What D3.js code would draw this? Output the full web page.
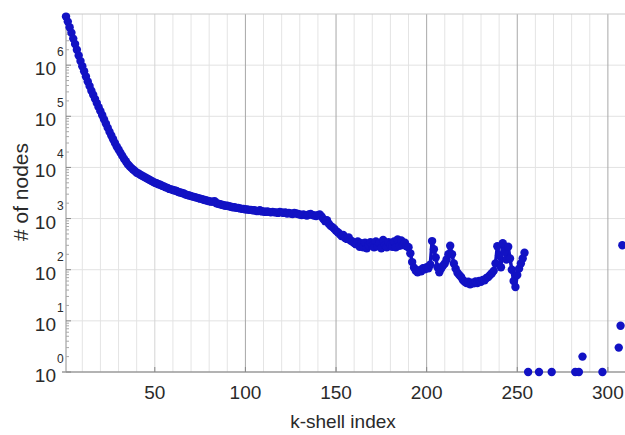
<!DOCTYPE html>
<html>
<head>
<meta charset="utf-8">
<script src="https://cdn.jsdelivr.net/npm/d3@7"></script>
<style>
  body { margin: 0; background: #fff; }
  text { font-family: "Liberation Sans", Arial, sans-serif; fill: #2a2a2a; }
</style>
</head>
<body>
<script>
// node counts per k-shell, k = 1 .. 254
var shellCounts = [
  8900000, 7100000, 5500000, 4300000, 3300000, 2600000, 2000000, 1550000, 1200000, 955000,
  760000, 600000, 480000, 390000, 316000, 263000, 219000, 182000, 151000, 126000,
  105000, 87000, 72000, 60000, 50000, 42000, 35500, 30000, 25700, 22400,
  19500, 17000, 14800, 13200, 11700, 10700, 9800, 9100, 8500, 7900,
  7600, 7200, 6900, 6600, 6300, 6000, 5750, 5500, 5250, 5000,
  4900, 4700, 4570, 4370, 4270, 4070, 3980, 3800, 3720, 3630,
  3550, 3470, 3310, 3240, 3160, 3090, 2950, 2880, 2820, 2750,
  2690, 2630, 2570, 2510, 2450, 2400, 2340, 2290, 2240, 2190,
  2140, 2140, 2190, 2000, 1950, 1900, 1860, 1820, 1780, 1780,
  1740, 1700, 1660, 1660, 1620, 1620, 1580, 1550, 1550, 1510,
  1510, 1480, 1480, 1450, 1450, 1410, 1410, 1450, 1380, 1380,
  1350, 1380, 1350, 1320, 1350, 1320, 1320, 1290, 1350, 1320,
  1290, 1320, 1260, 1290, 1260, 1230, 1290, 1260, 1230, 1200,
  1170, 1200, 1170, 1150, 1200, 1230, 1170, 1150, 1120, 1170,
  1200, 1100, 980, 890, 930, 790, 720, 680, 630, 575,
  540, 500, 457, 480, 417, 400, 427, 372, 355, 331,
  316, 355, 282, 331, 275, 339, 263, 302, 347, 295,
  275, 355, 288, 331, 263, 380, 302, 275, 347, 309,
  282, 355, 275, 390, 295, 372, 302, 339, 288, 275,
  209, 141, 110, 95, 89, 98, 93, 107, 102, 112,
  107, 126, 363, 251, 174, 112, 89, 105, 120, 132,
  158, 200, 295, 200, 132, 105, 87, 79, 72, 63,
  58, 55, 58, 52, 56, 54, 59, 55, 60, 58,
  63, 62, 69, 72, 79, 85, 95, 132, 288, 191,
  112, 331, 229, 158, 282, 166, 100, 60, 46, 79,
  105, 132, 166, 214
];
// sparse shells at the top end
var tailK = [256, 262, 269, 282, 284, 286, 297, 306, 307, 308];
var tailCounts = [1, 1, 1, 1, 1, 2, 1, 3, 8, 300];

var xTicks = [50, 100, 150, 200, 250, 300];
var yExps = [0, 1, 2, 3, 4, 5, 6];

var mainPts = shellCounts.map(function(c, i){ return {k: i + 1, n: c}; });
var points = mainPts.concat(tailK.map(function(k, i){ return {k: k, n: tailCounts[i]}; }));

var W = 625, H = 435;
var svg = d3.select("body").append("svg").attr("width", W).attr("height", H);

var x = d3.scaleLinear().domain([1, 310]).range([66, 626]);
var y = d3.scaleLog().domain([1, 1e7]).range([372, 14]);

var grid = svg.append("g");
// minor vertical grid every 10
grid.selectAll("line.vmin").data(d3.range(10, 310, 10).filter(function(v){ return v % 50 != 0; }))
  .enter().append("line")
  .attr("x1", function(d){ return x(d); }).attr("x2", function(d){ return x(d); })
  .attr("y1", y(1e7)).attr("y2", y(1))
  .style("stroke", "#e4e4e4").style("stroke-width", 1);
// horizontal decade lines
grid.selectAll("line.h").data(yExps.slice(1))
  .enter().append("line")
  .attr("x1", x(1)).attr("x2", W)
  .attr("y1", function(d){ return y(Math.pow(10, d)); }).attr("y2", function(d){ return y(Math.pow(10, d)); })
  .style("stroke", "#e2e2e2").style("stroke-width", 1);
// major vertical lines
grid.selectAll("line.vmaj").data(xTicks)
  .enter().append("line")
  .attr("x1", function(d){ return x(d); }).attr("x2", function(d){ return x(d); })
  .attr("y1", y(1e7)).attr("y2", y(1))
  .style("stroke", function(d){ return d == 50 ? "#d4d4d4" : "#a8a8a8"; }).style("stroke-width", 1);

// frame
svg.append("line").attr("x1", x(1)).attr("x2", W).attr("y1", y(1e7)).attr("y2", y(1e7))
  .style("stroke", "#c8c8c8");
svg.append("line").attr("x1", x(1)).attr("x2", x(1)).attr("y1", y(1e7)).attr("y2", y(1))
  .style("stroke", "#909090");
svg.append("line").attr("x1", x(1) - 4).attr("x2", W).attr("y1", y(1)).attr("y2", y(1))
  .style("stroke", "#9a9a9a").style("stroke-width", 1.6);

// x ticks
var xAxis = svg.append("g");
xAxis.selectAll("line").data(xTicks).enter().append("line")
  .attr("x1", function(d){ return x(d); }).attr("x2", function(d){ return x(d); })
  .attr("y1", y(1)).attr("y2", y(1) - 5).style("stroke", "#888");
xAxis.selectAll("text").data(xTicks).enter().append("text")
  .attr("x", function(d){ return x(d); }).attr("y", 399)
  .attr("text-anchor", "middle").attr("font-size", 19)
  .text(function(d){ return d; });

// y ticks (log)
var minor = [];
yExps.forEach(function(e){ d3.range(2, 10).forEach(function(m){ minor.push(m * Math.pow(10, e)); }); });
svg.append("g").selectAll("line").data(minor).enter().append("line")
  .attr("x1", x(1)).attr("x2", x(1) + 3)
  .attr("y1", function(d){ return y(d); }).attr("y2", function(d){ return y(d); })
  .style("stroke", "#aaa");
var yAxis = svg.append("g");
yAxis.selectAll("line").data(yExps).enter().append("line")
  .attr("x1", x(1)).attr("x2", x(1) + 5)
  .attr("y1", function(d){ return y(Math.pow(10, d)); }).attr("y2", function(d){ return y(Math.pow(10, d)); })
  .style("stroke", "#888");
yAxis.selectAll("text.base").data(yExps).enter().append("text")
  .attr("x", 56).attr("y", function(d){ return y(Math.pow(10, d)) + 10; })
  .attr("text-anchor", "end").attr("font-size", 19)
  .text("10");
yAxis.selectAll("text.exp").data(yExps).enter().append("text")
  .attr("x", 57).attr("y", function(d){ return y(Math.pow(10, d)) - 9; })
  .attr("font-size", 12)
  .text(function(d){ return d; });

// data: connecting line for the contiguous shells, then markers
var line = d3.line().x(function(d){ return x(d.k); }).y(function(d){ return y(d.n); });
svg.append("path").datum(mainPts).attr("d", line)
  .style("fill", "none").style("stroke", "#1212c4").style("stroke-width", 3.5)
  .style("stroke-linejoin", "round");
svg.append("g").selectAll("circle").data(points).enter().append("circle")
  .attr("cx", function(d){ return x(d.k); })
  .attr("cy", function(d){ return y(d.n); })
  .attr("r", 4.2)
  .style("fill", "#1212c4");

// labels
svg.append("text").attr("x", 343).attr("y", 428).attr("text-anchor", "middle")
  .attr("font-size", 19).text("k-shell index");
svg.append("text").attr("transform", "translate(28,192) rotate(-90)")
  .attr("text-anchor", "middle").attr("font-size", 21).text("# of nodes");
</script>
</body>
</html>
